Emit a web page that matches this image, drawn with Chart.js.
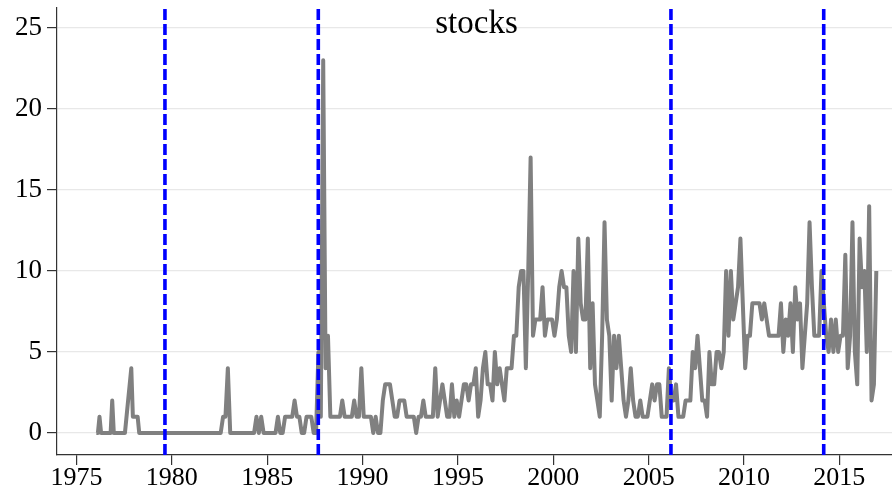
<!DOCTYPE html>
<html>
<head>
<meta charset="utf-8">
<title>stocks</title>
<script src="https://cdn.jsdelivr.net/npm/chart.js@4.4.1/dist/chart.umd.min.js"></script>
<style>
  html, body { margin: 0; padding: 0; background: #ffffff; }
  #wrap { position: relative; width: 892px; height: 497px; }
</style>
</head>
<body>
<div id="wrap"><canvas id="chart" width="892" height="497"></canvas></div>
<script>
// Mentions of "stocks" per FOMC meeting, one list per calendar year.
// Meetings inside a year are spread evenly across that year.
const firstYear = 1976;

const counts1970s = [
  [0,0,1,0,0,0,0,0,0,0,2,0],      // 1976
  [0,0,0,0,0,0,0,1,2,3,4,1],      // 1977
  [1,1,1,0,0,0,0,0,0,0,0,0],      // 1978
  [0,0,0,0,0,0,0,0,0,0,0,0]       // 1979
];
const counts1980s = [
  [0,0,0,0,0,0,0,0],              // 1980
  [0,0,0,0,0,0,0,0],              // 1981
  [0,0,0,0,0,1,1,4],              // 1982
  [0,0,0,0,0,0,0,0],              // 1983
  [0,0,0,1,0,1,0,0],              // 1984
  [0,0,0,0,1,0,0,1],              // 1985
  [1,1,1,2,1,1,0,0],              // 1986
  [1,1,1,0,0,5,1,23],             // 1987
  [4,6,1,1,1,1,1,2],              // 1988
  [1,1,1,1,2,1,1,4]               // 1989
];
const counts1990s = [
  [1,1,1,1,0,1,0,0],              // 1990
  [2,3,3,3,2,1,1,2],              // 1991
  [2,2,1,1,1,1,0,1],              // 1992
  [1,2,1,1,1,1,4,1],              // 1993
  [2,3,2,1,1,3,1,2],              // 1994
  [1,2,3,3,2,3,3,4],              // 1995
  [1,2,4,5,3,3,2,5],              // 1996
  [3,4,3,2,4,4,4,6],              // 1997
  [6,9,10,10,4,10,17,6],          // 1998
  [7,7,7,9,6,7,7,7]               // 1999
];
const counts2000s = [
  [6,7,9,10,9,9,6,5],             // 2000
  [10,5,12,8,7,7,12,4],           // 2001
  [8,3,2,1,6,13,7,6],             // 2002
  [2,6,4,6,4,2,1,2],              // 2003
  [4,2,1,1,2,1,1,1],              // 2004
  [2,3,2,3,3,1,1,1],              // 2005
  [4,2,2,3,1,1,1,2],              // 2006
  [2,2,5,4,6,4,2,2],              // 2007
  [1,5,3,3,5,5,4,5],              // 2008
  [10,6,10,7,8,9,12,8]            // 2009
];
const counts2010s = [
  [4,6,6,8,8,8,8,7],              // 2010
  [8,7,6,6,6,6,6,8],              // 2011
  [5,7,6,8,5,9,7,8],              // 2012
  [4,6,8,13,9,6,6,6],             // 2013
  [10,8,6,5,7,5,7,5],             // 2014
  [6,6,11,4,6,13,5,3],            // 2015
  [12,9,10,5,14,2,3,10]           // 2016
];

// Dates (decimal years) of the Fed chair changes marked by dashed lines
const chairChangeDates = [1979.64, 1987.68, 2006.17, 2014.18];

const xTicks = [1975, 1980, 1985, 1990, 1995, 2000, 2005, 2010, 2015];
const yTicks = [0, 5, 10, 15, 20, 25];
const xRange = [1973.98, 2017.76];
const yRange = [-1.36, 26.23];
const titleText = 'stocks';

const serif = '"Liberation Serif", "Times New Roman", "DejaVu Serif", serif';

// Build {x: date, y: count} points from the per-year lists
const yearly = [].concat(counts1970s, counts1980s, counts1990s, counts2000s, counts2010s);
const series = [];
yearly.forEach((list, k) => {
  const year = firstYear + k;
  list.forEach((v, i) => {
    series.push({ x: year + (i + 0.5) / list.length, y: v });
  });
});

const chairLines = chairChangeDates.map(d => ({
  data: [{ x: d, y: yRange[0] }, { x: d, y: yRange[1] }],
  borderColor: '#0000ff',
  borderWidth: 3.6,
  borderDash: [11, 4],
  pointRadius: 0,
  fill: false,
  order: 0
}));

const titlePlugin = {
  id: 'panelTitle',
  afterDraw(chart) {
    const { ctx, chartArea } = chart;
    ctx.save();
    ctx.font = '33px ' + serif;
    ctx.fillStyle = '#000000';
    ctx.textAlign = 'center';
    ctx.textBaseline = 'alphabetic';
    ctx.fillText(titleText, (chartArea.left + chartArea.right) / 2 + 2, chartArea.top + 25);
    ctx.restore();
  }
};

// Axes keep fixed sizes and do not reserve extra room for half-labels
const fixX = s => { s.height = 42; s.paddingLeft = 0; s.paddingRight = 0; };
const fixY = s => { s.width = 57; s.paddingTop = 0; s.paddingBottom = 0; };

new Chart(document.getElementById('chart').getContext('2d'), {
  type: 'line',
  data: {
    datasets: [
      {
        data: series,
        borderColor: '#808080',
        borderWidth: 4,
        borderJoinStyle: 'round',
        pointRadius: 0,
        tension: 0,
        fill: false,
        order: 1
      },
      ...chairLines
    ]
  },
  options: {
    responsive: false,
    animation: false,
    layout: { padding: { top: 8, left: 0, right: 0, bottom: 0 } },
    plugins: { legend: { display: false }, tooltip: { enabled: false } },
    scales: {
      x: {
        type: 'linear',
        min: xRange[0],
        max: xRange[1],
        afterBuildTicks: s => { s.ticks = xTicks.map(v => ({ value: v })); },
        afterFit: fixX,
        grid: { drawOnChartArea: false, drawTicks: true, tickLength: 10, tickColor: '#333333', lineWidth: 1.2 },
        border: { color: '#333333', width: 1.2 },
        ticks: {
          font: { family: serif, size: 26 },
          color: '#000000',
          padding: -2,
          maxRotation: 0,
          autoSkip: false,
          callback: v => String(v)
        }
      },
      y: {
        type: 'linear',
        min: yRange[0],
        max: yRange[1],
        afterBuildTicks: s => { s.ticks = yTicks.map(v => ({ value: v })); },
        afterFit: fixY,
        grid: { color: '#e8e8e8', lineWidth: 1.2, tickLength: 10, tickColor: '#333333' },
        border: { color: '#333333', width: 1.2 },
        ticks: {
          font: { family: serif, size: 27 },
          color: '#000000',
          padding: 5,
          callback: v => String(v)
        }
      }
    }
  },
  plugins: [titlePlugin]
});
</script>
</body>
</html>
